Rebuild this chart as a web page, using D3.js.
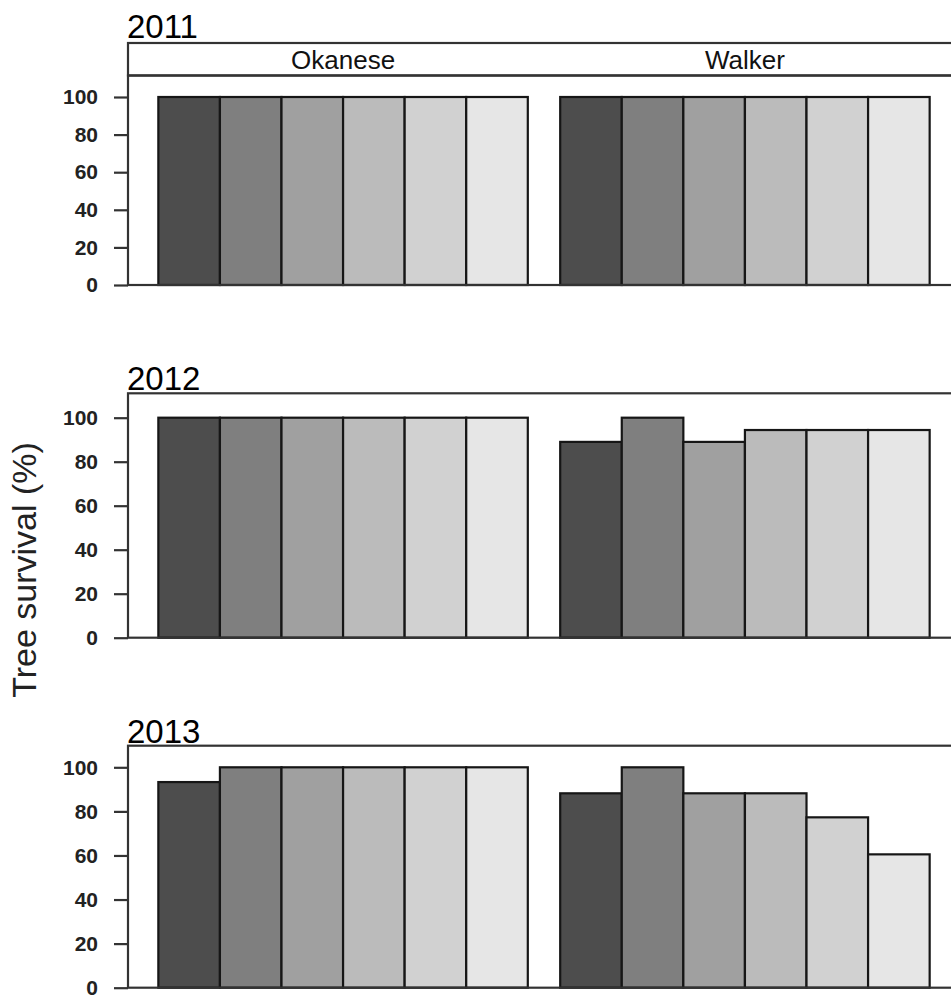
<!DOCTYPE html>
<html>
<head>
<meta charset="utf-8">
<script src="https://cdn.jsdelivr.net/npm/d3@7"></script>
<style>
  html, body { margin: 0; padding: 0; background: #fff; }
  svg { display: block; }
  text { font-family: "Liberation Sans", Arial, sans-serif; fill: #111; }
</style>
</head>
<body>
<svg id="chart" width="951" height="1000"></svg>
<script>
// Sites, treatment levels and survival (%) per year
const sites = ["Okanese", "Walker"];
const treatments = ["T1", "T2", "T3", "T4", "T5", "T6"];
const years = ["2011", "2012", "2013"];
const yTicks = [0, 20, 40, 60, 80, 100];

const survival2011 = {
  Okanese: [100, 100, 100, 100, 100, 100],
  Walker:  [100, 100, 100, 100, 100, 100]
};
const survival2012 = {
  Okanese: [100, 100, 100, 100, 100, 100],
  Walker:  [89, 100, 89, 94.4, 94.4, 94.4]
};
const survival2013 = {
  Okanese: [93.3, 100, 100, 100, 100, 100],
  Walker:  [88.2, 100, 88.2, 88.2, 77.3, 60.5]
};
const survivalByYear = [survival2011, survival2012, survival2013];

// grey ramp for the six treatment levels
const fills = ["#4D4D4D", "#7F7F7F", "#A0A0A0", "#BBBBBB", "#D1D1D1", "#E6E6E6"];

// panel geometry (pixels)
const frameLeft = 128, frameRight = 960;
const panels = [
  { titleY: 37.5, stripTop: 43, frameTop: 75.5, y100: 97,    y0: 285 },
  { titleY: 390,  stripTop: null, frameTop: 393.3, y100: 417.7, y0: 637.7 },
  { titleY: 743,  stripTop: null, frameTop: 745.7, y100: 767.3, y0: 987.7 }
];

const svg = d3.select("#chart");

const xSite = d3.scaleBand()
  .domain(sites)
  .range([frameLeft, frameRight])
  .paddingInner(0.0806)
  .paddingOuter(0.0755);

const xTreat = d3.scaleBand()
  .domain(treatments)
  .range([0, xSite.bandwidth()])
  .padding(0);

const color = d3.scaleOrdinal().domain(treatments).range(fills);

panels.forEach((p, i) => {
  const g = svg.append("g");
  const data = survivalByYear[i];

  const y = d3.scaleLinear().domain([0, 100]).range([p.y0, p.y100]);

  // year title
  g.append("text")
    .attr("x", 127)
    .attr("y", p.titleY)
    .style("font-size", "33px")
    .style("fill", "#000")
    .text(years[i]);

  // site strip on the first panel
  if (p.stripTop !== null) {
    g.append("rect")
      .attr("x", frameLeft).attr("y", p.stripTop)
      .attr("width", frameRight - frameLeft)
      .attr("height", p.frameTop - p.stripTop)
      .attr("fill", "#fff")
      .attr("stroke", "#333").attr("stroke-width", 2.2);
    g.selectAll(".strip")
      .data(sites)
      .join("text")
      .attr("class", "strip")
      .attr("x", d => xSite(d) + xSite.bandwidth() / 2)
      .attr("y", p.stripTop + 25.5)
      .attr("text-anchor", "middle")
      .style("font-size", "26px")
      .text(d => d);
  }

  // bars
  sites.forEach(site => {
    g.append("g")
      .attr("transform", `translate(${xSite(site)},0)`)
      .selectAll("rect")
      .data(data[site].map((v, k) => ({ t: treatments[k], v })))
      .join("rect")
      .attr("x", d => xTreat(d.t))
      .attr("y", d => y(d.v))
      .attr("width", xTreat.bandwidth())
      .attr("height", d => y(0) - y(d.v))
      .attr("fill", d => color(d.t))
      .attr("stroke", "#161616")
      .attr("stroke-width", 2.2);
  });

  // panel frame
  g.append("rect")
    .attr("x", frameLeft).attr("y", p.frameTop)
    .attr("width", frameRight - frameLeft)
    .attr("height", p.y0 - p.frameTop)
    .attr("fill", "none")
    .attr("stroke", "#333").attr("stroke-width", 2.2);

  // y axis
  const axis = d3.axisLeft(y).tickValues(yTicks).tickSize(14).tickPadding(16);
  const ag = g.append("g")
    .attr("transform", `translate(${frameLeft},0)`)
    .call(axis);
  ag.select(".domain").remove();
  ag.selectAll(".tick line").attr("stroke", "#333").attr("stroke-width", 2.2);
  ag.selectAll(".tick text")
    .attr("dy", "0.32em")
    .style("font-size", "21px")
    .style("font-weight", "bold")
    .style("fill", "#222")
    .style("font-family", "'Liberation Sans', Arial, sans-serif");
});

// shared y-axis title
svg.append("text")
  .attr("transform", "translate(36,570) rotate(-90)")
  .attr("text-anchor", "middle")
  .style("font-size", "34px")
  .style("fill", "#222")
  .text("Tree survival (%)");
</script>
</body>
</html>
